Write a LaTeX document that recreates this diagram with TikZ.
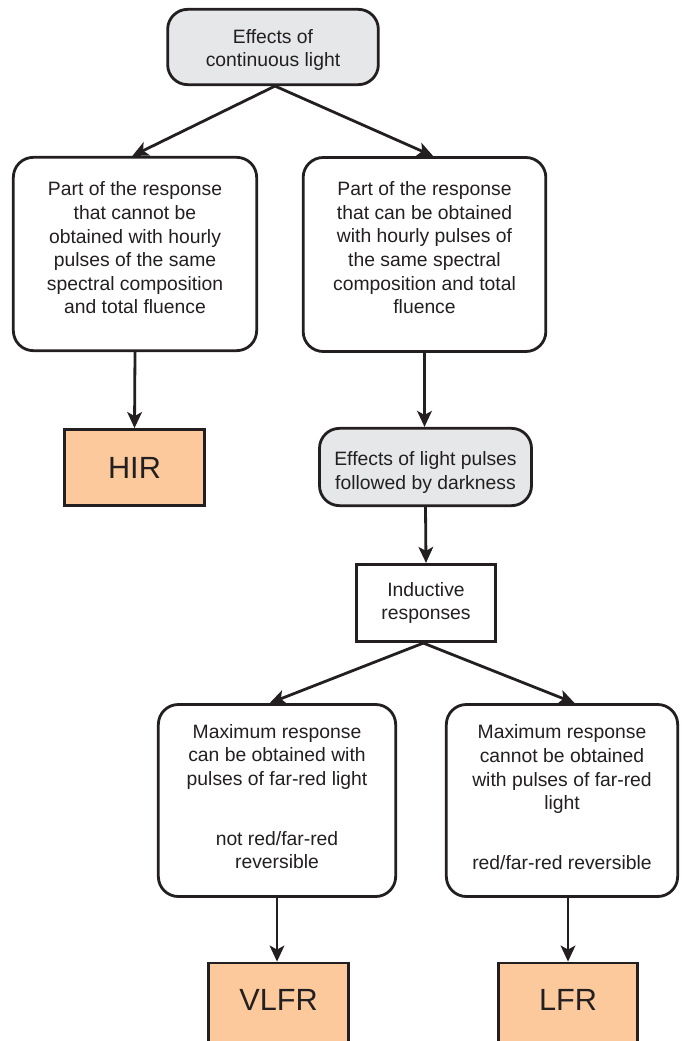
\documentclass[tikz,border=0pt]{standalone}
\usepackage{fontspec}
\setmainfont{Liberation Sans}
\usetikzlibrary{arrows.meta}
\definecolor{ink}{HTML}{231F20}
\definecolor{boxgrey}{HTML}{E6E7E8}
\definecolor{boxorange}{HTML}{FBC99B}
\tikzset{
  base/.style={draw=ink, line width=2.1pt, inner sep=0pt},
  roundbox/.style={base, rounded corners=15pt, fill=white},
  greybox/.style={base, rounded corners=15pt, fill=boxgrey},
  plainbox/.style={base, fill=white},
  endbox/.style={base, fill=boxorange},
  txt/.style={text=ink, align=center, inner sep=0pt, font=\fontsize{14.5}{17.7}\selectfont},
  bigtxt/.style={text=ink, inner sep=0pt, font=\fontsize{23}{27}\selectfont},
  arr/.style={draw=ink, line width=2.1pt, -{Stealth[length=12pt,width=11pt,inset=3pt]}},
}
\begin{document}
\begin{tikzpicture}[x=0.75pt,y=-0.75pt]
\useasboundingbox (0,0) rectangle (681,1041);
\clip (0,0) rectangle (681,1041);
% boxes
\node[greybox, minimum width=158pt, minimum height=56.5pt] (top) at (273,47) {};
\node[roundbox, minimum width=182.5pt, minimum height=145pt] (left) at (135,254) {};
\node[roundbox, minimum width=182pt, minimum height=145.5pt] (right) at (424.5,254.5) {};
\node[endbox, minimum width=105pt, minimum height=57pt] (hir) at (134.5,467.5) {};
\node[greybox, minimum width=159pt, minimum height=58pt] (pulses) at (425.5,467) {};
\node[plainbox, minimum width=104.5pt, minimum height=58pt] (ind) at (426,603) {};
\node[roundbox, minimum width=178pt, minimum height=144pt] (bl) at (277,800.5) {};
\node[roundbox, minimum width=173.5pt, minimum height=144pt] (br) at (562,800.5) {};
\node[endbox, minimum width=105pt, minimum height=60pt] (vlfr) at (278.5,1003) {};
\node[endbox, minimum width=104.5pt, minimum height=60pt] (lfr) at (568,1003) {};
% texts
\node[txt] (topt) at ([yshift=-2.25pt]top.center) {Effects of\\continuous light};
\node[txt] (leftt) at ([yshift=4.5pt]left.center)
  {Part of the response\\that cannot be\\obtained with hourly\\pulses of the same\\spectral composition\\and total fluence};
\node[txt] (rightt) at ([yshift=5pt]right.center)
  {Part of the response\\that can be obtained\\with hourly pulses of\\the same spectral\\composition and total\\fluence};
\node[bigtxt] (hirt) at (hir.center) {HIR};
\node[txt] (pulsest) at ([yshift=-4pt]pulses.center) {Effects of light pulses\\followed by darkness};
\node[txt] (indt) at (ind.center) {Inductive\\responses};
\node[txt] (blt) at ([yshift=3pt]bl.center)
  {Maximum response\\can be obtained with\\pulses of far-red light\\[27pt]not red/far-red\\reversible};
\node[txt] (brt) at ([yshift=2.5pt]br.center)
  {Maximum response\\cannot be obtained\\with pulses of far-red\\light\\[27pt]red/far-red reversible};
\node[bigtxt] (vlfrt) at ([yshift=2pt]vlfr.center) {VLFR};
\node[bigtxt] (lfrt) at ([yshift=2pt]lfr.center) {LFR};
% connectors
\draw[arr] ([xshift=1.5pt]top.south) -- ([xshift=-2pt]left.north);
\draw[arr] ([xshift=1.5pt]top.south) -- ([xshift=6.5pt]right.north);
\draw[arr] (left.south) -- (hir.north);
\draw[arr] (right.south) -- (right.south |- pulses.north);
\draw[arr] (pulses.south) -- (ind.north);
\draw[arr] ([xshift=-2pt]ind.south) -- ([xshift=-5.5pt]bl.north);
\draw[arr] ([xshift=-2pt]ind.south) -- ([xshift=9.5pt]br.north);
\draw[arr] (bl.south) -- (bl.south |- vlfr.north);
\draw[arr] (lfr.north |- br.south) -- (lfr.north);
\end{tikzpicture}
\end{document}
